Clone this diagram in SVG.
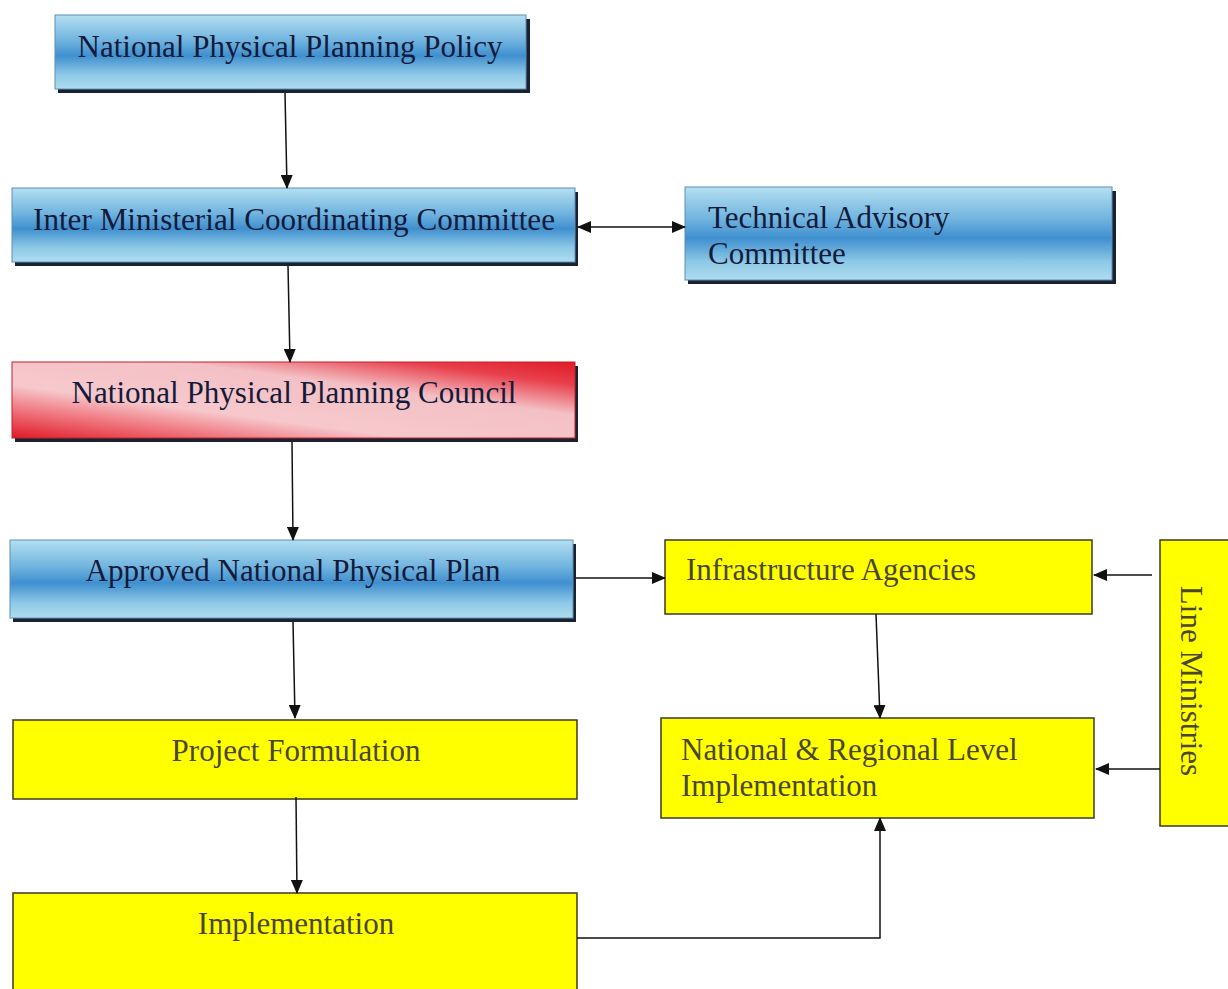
<svg xmlns="http://www.w3.org/2000/svg" width="1228" height="989" viewBox="0 0 1228 989">
<defs>
<linearGradient id="blue" x1="0" y1="0" x2="0" y2="1">
<stop offset="0" stop-color="#b4dff0"/>
<stop offset="0.35" stop-color="#6fb3df"/>
<stop offset="0.55" stop-color="#3f8fcf"/>
<stop offset="0.8" stop-color="#8cc8e6"/>
<stop offset="1" stop-color="#b0dcef"/>
</linearGradient>
<linearGradient id="red" x1="0" y1="1" x2="1" y2="0">
<stop offset="0" stop-color="#e01a28"/>
<stop offset="0.2" stop-color="#f07a82"/>
<stop offset="0.35" stop-color="#f6c8cc"/>
<stop offset="0.65" stop-color="#f3c0c5"/>
<stop offset="0.85" stop-color="#e8404c"/>
<stop offset="1" stop-color="#e01a28"/>
</linearGradient>
<marker id="ah" markerWidth="14" markerHeight="12" refX="13" refY="6" orient="auto-start-reverse" markerUnits="userSpaceOnUse">
<path d="M0,0 L14,6 L0,12 z" fill="#111"/>
</marker>
<style>
.shadow{fill:#1a2230}
.bl{fill:url(#blue);stroke:#5a8fb8;stroke-width:1}
.rd{fill:url(#red);stroke:#c02030;stroke-width:1}
.ye{fill:#ffff00;stroke:#3a3a20;stroke-width:1.5}
.tb{font-family:"Liberation Serif","Times New Roman",serif;font-size:31px;fill:#141a3a}
.ty{font-family:"Liberation Serif","Times New Roman",serif;font-size:31px;fill:#4a4632}
.c{stroke:#111;stroke-width:1.5;fill:none}
</style>
</defs>
<rect width="1228" height="989" fill="#ffffff"/>

<g id="policy">
<rect class="shadow" x="58" y="19" width="472" height="74"/>
<rect class="bl" x="55" y="15" width="471" height="74"/>
<text class="tb" x="290" y="57" text-anchor="middle" textLength="425" lengthAdjust="spacingAndGlyphs">National Physical Planning Policy</text>
</g>

<g id="imcc">
<rect class="shadow" x="15" y="192" width="563" height="74"/>
<rect class="bl" x="12" y="188" width="563" height="74"/>
<text class="tb" x="294" y="230" text-anchor="middle" textLength="522" lengthAdjust="spacingAndGlyphs">Inter Ministerial Coordinating Committee</text>
</g>

<g id="tac">
<rect class="shadow" x="688" y="191" width="428" height="93"/>
<rect class="bl" x="685" y="187" width="427" height="93"/>
<text class="tb" x="708" y="228">Technical Advisory</text>
<text class="tb" x="708" y="264">Committee</text>
</g>

<g id="nppc">
<rect class="shadow" x="15" y="366" width="563" height="76"/>
<rect class="rd" x="12" y="362" width="563" height="76"/>
<text class="tb" x="294" y="403" text-anchor="middle" textLength="445" lengthAdjust="spacingAndGlyphs">National Physical Planning Council</text>
</g>

<g id="anpp">
<rect class="shadow" x="13" y="544" width="563" height="78"/>
<rect class="bl" x="10" y="540" width="563" height="78"/>
<text class="tb" x="293" y="581" text-anchor="middle" textLength="415" lengthAdjust="spacingAndGlyphs">Approved National Physical Plan</text>
</g>

<g id="infra">
<rect class="ye" x="665" y="540" width="427" height="74"/>
<text class="ty" x="686" y="580">Infrastructure Agencies</text>
</g>

<g id="line">
<rect class="ye" x="1160" y="540" width="72" height="286"/>
<text class="ty" transform="translate(1181,681) rotate(90)" text-anchor="middle">Line Ministries</text>
</g>

<g id="nrli">
<rect class="ye" x="661" y="718" width="433" height="100"/>
<text class="ty" x="681" y="760">National &amp; Regional Level</text>
<text class="ty" x="681" y="796">Implementation</text>
</g>

<g id="pf">
<rect class="ye" x="13" y="720" width="564" height="79"/>
<text class="ty" x="296" y="761" text-anchor="middle">Project Formulation</text>
</g>

<g id="impl">
<rect class="ye" x="13" y="893" width="564" height="100"/>
<text class="ty" x="296" y="934" text-anchor="middle">Implementation</text>
</g>

<g id="connectors">
<line class="c" x1="285" y1="93" x2="287" y2="188" marker-end="url(#ah)"/>
<line class="c" x1="288" y1="266" x2="290" y2="362" marker-end="url(#ah)"/>
<line class="c" x1="292" y1="442" x2="293" y2="540" marker-end="url(#ah)"/>
<line class="c" x1="293" y1="622" x2="295" y2="718" marker-end="url(#ah)"/>
<line class="c" x1="296" y1="797" x2="297" y2="893" marker-end="url(#ah)"/>
<line class="c" x1="578" y1="227" x2="685" y2="227" marker-start="url(#ah)" marker-end="url(#ah)"/>
<line class="c" x1="576" y1="578" x2="665" y2="578" marker-end="url(#ah)"/>
<line class="c" x1="876" y1="614" x2="880" y2="718" marker-end="url(#ah)"/>
<line class="c" x1="1152" y1="575" x2="1094" y2="575" marker-end="url(#ah)"/>
<line class="c" x1="1160" y1="769" x2="1096" y2="769" marker-end="url(#ah)"/>
<polyline class="c" points="577,938 880,938 880,818" marker-end="url(#ah)"/>
</g>
</svg>
